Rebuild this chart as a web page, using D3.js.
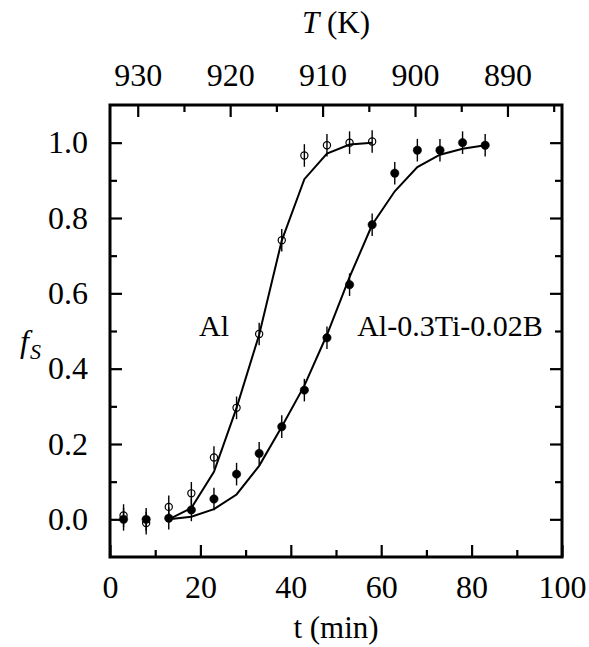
<!DOCTYPE html>
<html>
<head>
<meta charset="utf-8">
<script src="https://cdn.jsdelivr.net/npm/d3@7"></script>
<style>
  body { margin: 0; background: #fff; }
  svg text { font-family: "Liberation Serif", "Times New Roman", Times, serif !important; fill: #000; }
</style>
</head>
<body>
<svg id="chart" width="589" height="647"></svg>
<script>
// ---- data ----
const tAl = [3, 8, 13, 18, 23, 28, 33, 38, 43, 48, 53, 58];
const fsAl = [0.01, -0.01, 0.033, 0.069, 0.164, 0.296, 0.492, 0.741, 0.966, 0.993, 1.0, 1.003];
const errAl = [0.03, 0.03, 0.03, 0.03, 0.03, 0.03, 0.03, 0.03, 0.03, 0.03, 0.03, 0.03];

const tTiB = [3, 8, 13, 18, 23, 28, 33, 38, 43, 48, 53, 58, 63, 68, 73, 78, 83];
const fsTiB = [0.0, 0.0, 0.003, 0.025, 0.054, 0.120, 0.175, 0.246, 0.343, 0.482, 0.623, 0.782, 0.919, 0.98, 0.98, 1.0, 0.993];
const errTiB = [0.03, 0.03, 0.03, 0.03, 0.03, 0.03, 0.03, 0.03, 0.03, 0.03, 0.03, 0.03, 0.03, 0.03, 0.03, 0.03, 0.03];

// fitted curves
const fitTAl = [13, 18, 23, 28, 33, 38, 43, 48, 53, 58];
const fitAl = [0.0, 0.03, 0.126, 0.296, 0.49, 0.74, 0.903, 0.971, 0.995, 1.0];
const fitTTiB = [13, 18, 23, 28, 33, 38, 43, 48, 53, 58, 63, 68, 73, 78, 83];
const fitTiB = [0.0, 0.007, 0.027, 0.066, 0.142, 0.246, 0.355, 0.49, 0.643, 0.782, 0.871, 0.935, 0.968, 0.984, 0.993];

const xMajor = [0, 20, 40, 60, 80, 100];
const xMinor = [10, 30, 50, 70, 90];
const yMajor = [0, 0.2, 0.4, 0.6, 0.8, 1.0];
const yMinor = [0.1, 0.3, 0.5, 0.7, 0.9];
const tempMajor = [930, 920, 910, 900, 890];
const tempMinor = [925, 915, 905, 895, 885];

// ---- layout ----
const svg = d3.select("#chart");
const L = 110, R = 562, T = 105, B = 557;
const x = d3.scaleLinear().domain([0, 100]).range([L, R]);
const xT = d3.scaleLinear().domain([933, 884.1]).range([L, R]);
const y = d3.scaleLinear().domain([-0.1, 1.1]).range([B, T]);

const majLen = 12, minLen = 7;
const fs = 32;
const serif = "'Liberation Serif', 'Times New Roman', Times, serif";

function styleAxis(g) {
  g.attr("font-family", null).attr("font-size", null);
  g.select(".domain").remove();
  g.selectAll(".tick line").attr("stroke", "#000").attr("stroke-width", 2.2);
  g.selectAll(".tick text").style("font-size", fs + "px").style("font-family", serif).attr("fill", "#000");
}

// bottom
svg.append("g").attr("transform", `translate(0,${B})`)
  .call(d3.axisBottom(x).tickValues(xMajor).tickSize(-majLen).tickPadding(majLen + 6).tickFormat(d3.format("d")))
  .call(styleAxis);
svg.append("g").attr("transform", `translate(0,${B})`)
  .call(d3.axisBottom(x).tickValues(xMinor).tickSize(-minLen).tickFormat(""))
  .call(styleAxis);
// top (temperature)
svg.append("g").attr("transform", `translate(0,${T})`)
  .call(d3.axisTop(xT).tickValues(tempMajor).tickSize(-majLen).tickPadding(majLen + 7).tickFormat(d3.format("d")))
  .call(styleAxis);
svg.append("g").attr("transform", `translate(0,${T})`)
  .call(d3.axisTop(xT).tickValues(tempMinor).tickSize(-minLen).tickFormat(""))
  .call(styleAxis);
// left
svg.append("g").attr("transform", `translate(${L},0)`)
  .call(d3.axisLeft(y).tickValues(yMajor).tickSize(-majLen).tickPadding(majLen + 10).tickFormat(d3.format(".1f")))
  .call(styleAxis);
svg.append("g").attr("transform", `translate(${L},0)`)
  .call(d3.axisLeft(y).tickValues(yMinor).tickSize(-minLen).tickFormat(""))
  .call(styleAxis);
// right
svg.append("g").attr("transform", `translate(${R},0)`)
  .call(d3.axisRight(y).tickValues(yMajor).tickSize(-majLen).tickFormat(""))
  .call(styleAxis);
svg.append("g").attr("transform", `translate(${R},0)`)
  .call(d3.axisRight(y).tickValues(yMinor).tickSize(-minLen).tickFormat(""))
  .call(styleAxis);

// frame
svg.append("rect").attr("x", L).attr("y", T).attr("width", R - L).attr("height", B - T)
  .attr("fill", "none").attr("stroke", "#000").attr("stroke-width", 3);

// fit lines
const line = d3.line().x(d => x(d[0])).y(d => y(d[1]));
svg.append("path").datum(fitTAl.map((t, i) => [t, fitAl[i]]))
  .attr("d", line).attr("fill", "none").attr("stroke", "#000").attr("stroke-width", 2);
svg.append("path").datum(fitTTiB.map((t, i) => [t, fitTiB[i]]))
  .attr("d", line).attr("fill", "none").attr("stroke", "#000").attr("stroke-width", 2);

// error bars + markers
function drawSeries(ts, vals, errs, filled) {
  const data = ts.map((t, i) => ({ t, v: vals[i], e: errs[i] }));
  const g = svg.append("g");
  g.selectAll("line.err").data(data).join("line")
    .attr("x1", d => x(d.t)).attr("x2", d => x(d.t))
    .attr("y1", d => y(d.v - d.e)).attr("y2", d => y(d.v + d.e))
    .attr("stroke", "#000").attr("stroke-width", 1.4);
  g.selectAll("circle").data(data).join("circle")
    .attr("cx", d => x(d.t)).attr("cy", d => y(d.v))
    .attr("r", filled ? 4.2 : 3.6)
    .attr("fill", filled ? "#000" : "#fff")
    .attr("fill-opacity", filled ? 1 : 0)
    .attr("stroke", "#000").attr("stroke-width", filled ? 0.5 : 1.2);
}
drawSeries(tTiB, fsTiB, errTiB, true);
drawSeries(tAl, fsAl, errAl, false);

// labels
svg.append("text").attr("x", 214).attr("y", 336).attr("text-anchor", "middle")
  .attr("font-size", 30).text("Al");
svg.append("text").attr("x", 450).attr("y", 336).attr("text-anchor", "middle")
  .attr("font-size", 30).text("Al-0.3Ti-0.02B");

// axis titles
svg.append("text").attr("x", (L + R) / 2).attr("y", 638).attr("text-anchor", "middle")
  .attr("font-size", 31).text("t (min)");
const tt = svg.append("text").attr("x", (L + R) / 2).attr("y", 33).attr("text-anchor", "middle")
  .attr("font-size", 31);
tt.append("tspan").attr("font-style", "italic").text("T");
tt.append("tspan").text(" (K)");

const fl = svg.append("text").attr("x", 20).attr("y", 352).attr("font-size", 32);
fl.append("tspan").attr("font-style", "italic").text("f");
fl.append("tspan").attr("font-style", "italic").attr("font-size", 22).attr("dy", 7).attr("dx", 1).text("S");
</script>
</body>
</html>
